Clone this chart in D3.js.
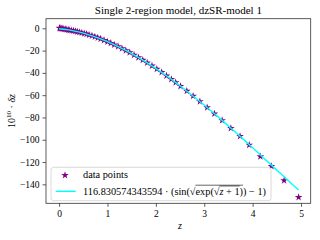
<!DOCTYPE html>
<html>
<head>
<meta charset="utf-8">
<script src="https://cdn.jsdelivr.net/npm/d3@7"></script>
<style>
  body { margin: 0; background: #fff; }
  text { font-family: "Liberation Serif", "DejaVu Serif", serif; fill: #000; }
</style>
</head>
<body>
<div id="svg_area"></div>
<script>
// data
var point_z = [0.01, 0.02, 0.04, 0.06, 0.08, 0.10, 0.13, 0.16, 0.19, 0.22, 0.26, 0.30, 0.34, 0.38,
               0.42, 0.47, 0.52, 0.57, 0.62, 0.68, 0.74, 0.80, 0.86, 0.93, 1.00, 1.07, 1.14, 1.22,
               1.30, 1.38, 1.46, 1.55, 1.64, 1.73, 1.82, 1.92, 2.02, 2.12, 2.22, 2.32, 2.41, 2.51,
               2.64, 2.77, 2.91, 3.06, 3.21, 3.37, 3.55, 3.74, 3.93, 4.16, 4.39, 4.65, 4.95];
var point_dz = [0.2, 0.1, -0.1, -0.3, -0.5, -0.7, -0.9, -1.2, -1.4, -1.7, -2.0, -2.3, -2.7, -3.1,
                -3.5, -4.0, -4.6, -5.2, -5.9, -6.7, -7.6, -8.5, -9.5, -10.7, -12.0, -13.3, -14.7, -16.4,
                -18.1, -19.9, -21.7, -23.9, -26.2, -28.5, -30.9, -33.7, -36.6, -39.5, -42.6, -45.7, -48.6, -51.9,
                -56.2, -60.8, -65.7, -71.1, -76.6, -82.6, -89.6, -96.9, -104.6, -115.0, -123.8, -136.5, -151.5];

var fit_z = [0, 0.1, 0.2, 0.3, 0.4, 0.5, 0.6, 0.7, 0.8, 0.9, 1.0, 1.2, 1.4, 1.6, 1.8, 2.0, 2.2, 2.4,
             2.6, 2.8, 3.0, 3.2, 3.4, 3.6, 3.8, 4.0, 4.2, 4.4, 4.6, 4.8, 4.95];
var fit_dz = [-0.36, -0.82, -1.47, -2.27, -3.24, -4.36, -5.62, -7.02, -8.56, -10.22, -12.00, -15.94,
              -20.33, -25.16, -30.38, -35.99, -41.95, -48.25, -54.87, -61.80, -68.84, -76.16, -83.73,
              -91.43, -99.21, -107.18, -115.16, -123.20, -131.16, -139.17, -145.10];

var x_ticks = [0, 1, 2, 3, 4, 5];
var y_ticks = [0, -20, -40, -60, -80, -100, -120, -140];

var title = "Single 2-region model, dzSR-model 1";
var point_label = "data points";

d3.select('#svg_area').append("svg").attr("width", 320).attr("height", 240);

var svg = d3.select("svg");
var margin = {top: 18.7, right: 9.3, bottom: 36.7, left: 46};
var svg_width = +svg.attr("width") - margin.left - margin.right;
var svg_height = +svg.attr("height") - margin.top - margin.bottom;
var g = svg.append("g").attr("transform", "translate(" + margin.left + "," + margin.top + ")");

var scaleZ = d3.scaleLinear().domain([-0.27, 5.2]).range([0, svg_width]);
var scaleDz = d3.scaleLinear().domain([-157, 8.6]).range([svg_height, 0]);

var fitLine = d3.line()
    .x(function(d, i) { return scaleZ(fit_z[i]); })
    .y(function(d) { return scaleDz(d); });

var minus = function(v) { return String(v).replace("-", "\u2212"); };

// axes
var xAxis = g.append("g")
   .attr("transform", "translate(0," + svg_height + ")")
   .call(d3.axisBottom(scaleZ).tickValues(x_ticks).tickSize(3.5).tickPadding(3).tickFormat(minus));
var yAxis = g.append("g")
   .call(d3.axisLeft(scaleDz).tickValues(y_ticks).tickSize(3.5).tickPadding(3).tickFormat(minus));

[xAxis, yAxis].forEach(function(a) {
  a.select(".domain").remove();
  a.selectAll("line").attr("stroke", "#333").attr("stroke-width", 0.8);
  a.selectAll("text").style("font-family", "Liberation Serif, serif").style("font-size", "9.5px");
});

// data points
g.selectAll(".pt")
  .data(point_dz)
  .enter().append("path")
  .attr("class", "pt")
  .attr("transform", function(d, i) { return "translate(" + scaleZ(point_z[i]) + "," + scaleDz(d) + ")"; })
  .attr("d", d3.symbol().type(d3.symbolStar).size(18))
  .attr("fill", "purple");

// fit curve
g.append("path")
  .datum(fit_dz)
  .attr("fill", "none")
  .attr("stroke", "cyan")
  .attr("stroke-width", 1.4)
  .attr("d", fitLine);

// frame
g.append("rect")
  .attr("width", svg_width).attr("height", svg_height)
  .attr("fill", "none").attr("stroke", "#333").attr("stroke-width", 0.8);

// title and labels
svg.append("text")
  .attr("x", margin.left + svg_width / 2).attr("y", 14)
  .attr("text-anchor", "middle").style("font-size", "11px")
  .text(title);

svg.append("text")
  .attr("x", margin.left + scaleZ(2.5)).attr("y", 229)
  .attr("text-anchor", "middle").style("font-size", "10px").style("font-style", "italic")
  .text("z");

var ylab = svg.append("text")
  .attr("transform", "translate(15," + (margin.top + svg_height / 2) + ") rotate(-90)")
  .attr("text-anchor", "middle").style("font-size", "10px");
ylab.append("tspan").text("10");
ylab.append("tspan").attr("dy", -4).style("font-size", "7px").text("10");
ylab.append("tspan").attr("dy", 4).text(" \u00b7 ");
ylab.append("tspan").style("font-style", "italic").text("\u03b4z");

// legend
var legend = g.append("g").attr("transform", "translate(5,148.6)");
legend.append("rect")
  .attr("width", 220).attr("height", 33.4).attr("rx", 2.5)
  .attr("fill", "#fff").attr("fill-opacity", 0.8)
  .attr("stroke", "#d0d0d0").attr("stroke-width", 0.8);

legend.append("path")
  .attr("transform", "translate(14,8)")
  .attr("d", d3.symbol().type(d3.symbolStar).size(18))
  .attr("fill", "purple");
legend.append("text").attr("x", 32).attr("y", 11).style("font-size", "10.3px").text(point_label);

legend.append("line")
  .attr("x1", 4.7).attr("x2", 24.7).attr("y1", 24).attr("y2", 24)
  .attr("stroke", "cyan").attr("stroke-width", 1.4);

var formula = legend.append("text").attr("x", 32).attr("y", 27.5).style("font-size", "10.3px");
var pre = "116.830574343594 \u00b7 (sin(\u221a";
var part2 = "exp(\u221a";
var part3 = "z + 1";
formula.append("tspan").text(pre);
formula.append("tspan").text(part2);
formula.append("tspan").style("font-style", "italic").text("z");
formula.append("tspan").text(" + 1)) \u2212 1)");

// overlines for the square roots
var node = formula.node();
var outerA = pre.length, outerB = pre.length + part2.length + part3.length;
var innerA = pre.length + part2.length, innerB = innerA + part3.length - 1;
var top_y = 27.5 - 8.8;
[[outerA, outerB], [innerA, innerB]].forEach(function(r, k) {
  var x1 = node.getStartPositionOfChar(r[0] - 1).x + 5.5;
  var x2 = node.getEndPositionOfChar(r[1]).x;
  legend.append("line")
    .attr("x1", x1).attr("x2", x2)
    .attr("y1", top_y - (k === 0 ? 0.8 : 0)).attr("y2", top_y - (k === 0 ? 0.8 : 0))
    .attr("stroke", "#000").attr("stroke-width", 0.6);
});
</script>
</body>
</html>
